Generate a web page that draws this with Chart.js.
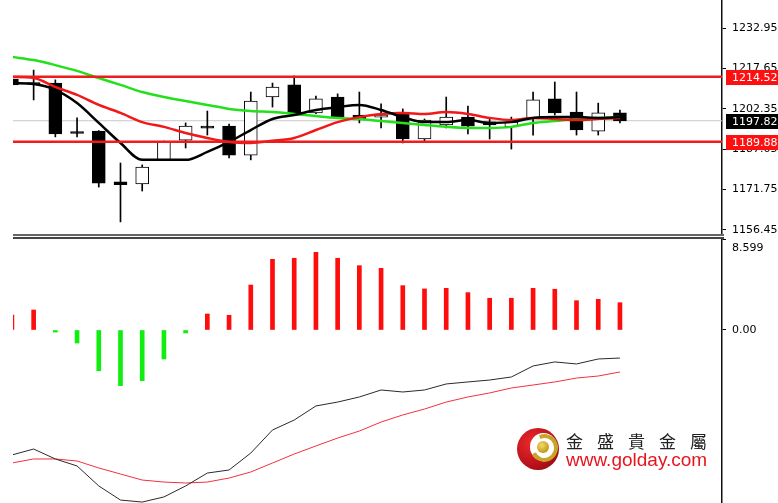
<!DOCTYPE html>
<html>
<head>
<meta charset="utf-8">
<script src="https://cdn.jsdelivr.net/npm/chart.js@4/dist/chart.umd.min.js"></script>
<style>
  html, body { margin: 0; padding: 0; background: #fff; }
  #wrap { position: relative; width: 778px; height: 503px; overflow: hidden; }
  canvas { position: absolute; left: 0; }
  #top { top: 0; }
  #bot { top: 238px; }
  .sep { position: absolute; left: 13px; width: 711px; height: 2px; }
  #logo { position: absolute; left: 517px; top: 428px; width: 42px; height: 42px; border-radius: 50%;
    background: radial-gradient(circle at 35% 35%, #ec2a2a, #b8101a 60%, #7a0a10); }
  #logo .hole { position: absolute; left: 13px; top: 5px; width: 27px; height: 28px; border-radius: 50%; background: #fff; }
  #logo .ring { position: absolute; left: 14px; top: 6px; width: 19px; height: 20px; border-radius: 50%;
    border: 4px solid; border-color: #c9a42a #c9a42a #c9a42a transparent; transform: rotate(20deg); }
  #logo .dot { position: absolute; left: 20px; top: 13px; width: 12px; height: 12px; border-radius: 50%;
    background: radial-gradient(circle at 40% 35%, #f3dc6a, #c49a1a 70%, #9a7410); }
  #brand { position: absolute; left: 566px; top: 431px; font: 17px "Noto Sans CJK TC"; letter-spacing: 14px; color: #222; line-height: 20px; white-space: nowrap; }
  #site { position: absolute; left: 566px; top: 450px; font: 19px "Liberation Sans"; color: #e8141e; line-height: 19px; white-space: nowrap; }
</style>
</head>
<body>
<div id="wrap">
  <canvas id="top" width="778" height="245"></canvas>
  <canvas id="bot" width="778" height="265"></canvas>
  <div class="sep" style="top:234px;background:#666"></div>
  <div class="sep" style="top:237px;background:#444"></div>
  <div id="logo"><div class="hole"></div><div class="ring"></div><div class="dot"></div></div>
  <div id="brand">金盛貴金屬</div>
  <div id="site">www.golday.com</div>
</div>
<script>
// candles
const opens  = [1213.6, 1212.3, 1212.1, 1193.7, 1193.9, 1174.7, 1173.9, 1183.0, 1190.5, 1195.8, 1195.8, 1184.8, 1206.8, 1211.4, 1200.8,
                1206.8, 1200.0, 1199.2, 1201.1, 1190.9, 1196.2, 1199.2, 1197.4, 1195.5, 1198.9, 1206.1, 1201.1, 1193.9, 1200.8];
const highs  = [1214.4, 1217.0, 1213.3, 1198.9, 1194.1, 1181.8, 1181.1, 1190.1, 1197.0, 1201.5, 1196.6, 1208.7, 1212.1, 1214.8, 1207.2,
                1208.0, 1208.7, 1204.2, 1202.3, 1198.5, 1206.8, 1203.4, 1198.9, 1199.2, 1208.7, 1212.5, 1208.7, 1204.5, 1201.9];
const lows   = [1211.0, 1205.7, 1191.7, 1191.7, 1172.7, 1159.5, 1171.2, 1182.8, 1187.5, 1192.4, 1183.7, 1183.0, 1203.0, 1200.4, 1200.5,
                1198.9, 1197.0, 1195.1, 1189.4, 1190.2, 1195.1, 1192.8, 1190.9, 1187.1, 1192.4, 1200.0, 1192.4, 1192.4, 1197.0];
const closes = [1211.4, 1211.7, 1192.8, 1193.0, 1174.2, 1173.6, 1180.3, 1189.8, 1195.8, 1195.0, 1184.8, 1205.3, 1210.6, 1200.8, 1206.1,
                1199.2, 1198.1, 1200.0, 1190.9, 1198.1, 1199.2, 1195.8, 1196.2, 1197.4, 1205.7, 1200.8, 1194.3, 1200.8, 1197.8];

// moving averages
const maFast = [1212.1, 1211.7, 1209.5, 1204.5, 1197.0, 1189.4, 1183.0, 1183.0, 1183.0, 1186.0, 1189.8, 1194.3, 1198.5, 1200.0, 1201.9,
                1203.0, 1203.8, 1201.9, 1199.2, 1197.3, 1197.3, 1198.1, 1197.0, 1197.3, 1198.9, 1199.2, 1199.2, 1198.9, 1199.2];
const maMid  = [1214.4, 1214.0, 1210.6, 1207.6, 1203.8, 1200.8, 1197.3, 1195.5, 1193.2, 1191.3, 1189.8, 1189.4, 1190.2, 1191.3, 1194.3,
                1197.3, 1199.2, 1200.4, 1200.8, 1200.4, 1201.1, 1200.4, 1198.9, 1198.1, 1198.9, 1198.5, 1198.1, 1198.5, 1198.9];
const maSlow = [1222.0, 1220.8, 1218.9, 1216.7, 1214.0, 1211.4, 1208.7, 1206.8, 1205.3, 1203.8, 1202.3, 1201.5, 1201.1, 1200.4, 1199.6,
                1198.9, 1198.5, 1197.7, 1197.0, 1196.2, 1195.5, 1195.1, 1195.1, 1195.5, 1197.0, 1197.7, 1198.5, 1198.9, 1199.2];

const levels = [1214.52, 1189.88];
const lastPrice = 1197.82;
const priceTicks = [1232.95, 1217.65, 1202.35, 1187.05, 1171.75, 1156.45];

// lower panel
const hist   = [1.42, 1.89, -0.2, -1.23, -3.85, -5.26, -4.79, -2.74, -0.28, 1.51, 1.39, 4.25, 6.68, 6.78, 7.34,
                6.78, 6.08, 5.83, 4.19, 3.88, 3.94, 3.53, 3.0, 3.0, 3.94, 3.85, 2.77, 2.9, 2.58];
const lineA  = [-11.81, -11.25, -12.19, -12.85, -14.74, -16.07, -16.26, -15.78, -14.74, -13.52, -13.23, -11.63, -9.45, -8.51, -7.18,
                -6.81, -6.33, -5.67, -5.86, -5.67, -5.1, -4.91, -4.73, -4.44, -3.4, -3.02, -3.21, -2.74, -2.65];
const lineB  = [-12.57, -12.19, -12.19, -12.38, -13.04, -13.61, -14.18, -14.37, -14.46, -14.37, -13.99, -13.42, -12.57, -11.72, -10.96,
                -10.21, -9.55, -8.7, -8.03, -7.47, -6.81, -6.33, -5.95, -5.48, -5.2, -4.91, -4.54, -4.35, -3.97];
const lowerTicks = [8.599, 0];

Chart.defaults.font.family = '"DejaVu Sans"';
Chart.defaults.font.size = 11;
Chart.defaults.color = '#000';

const X_MIN = 0.05, X_MAX = 32.7;
const pts = arr => arr.map((v, i) => ({ x: i, y: v }));
const flat = v => [{ x: X_MIN, y: v }, { x: X_MAX, y: v }];

const xScale = { type: 'linear', min: X_MIN, max: X_MAX, offset: false, display: false };
const axisRight = (min, max, ticks) => ({
  position: 'right', min, max,
  afterFit(s) { s.width = 56; s.paddingTop = 0; s.paddingBottom = 0; },
  afterBuildTicks(s) { s.ticks = ticks.map(v => ({ value: v })); },
  grid: { drawOnChartArea: false, drawTicks: true, tickLength: 4, color: '#000' },
  border: { display: true, color: '#111', width: 1.5 },
  ticks: { padding: 6, color: '#000', callback: v => v === 8.599 ? '' : v.toFixed(2) }
});

const priceTags = {
  id: 'priceTags',
  afterDraw(chart) {
    const ys = chart.scales.y, ctx = chart.ctx;
    const tags = [
      { v: levels[0], bg: '#ff1010' },
      { v: lastPrice, bg: '#000' },
      { v: levels[1], bg: '#ff1010' }
    ];
    ctx.save();
    ctx.font = '11px "DejaVu Sans"';
    ctx.textBaseline = 'middle';
    tags.forEach(t => {
      const py = Math.round(ys.getPixelForValue(t.v));
      ctx.fillStyle = t.bg;
      ctx.fillRect(ys.left + 4, py - 7, 60, 15);
      ctx.fillStyle = '#fff';
      ctx.fillText(t.v.toFixed(2), ys.left + 10, py + 1);
    });
    ctx.restore();
  }
};

new Chart(document.getElementById('top'), {
  type: 'bar',
  data: {
    datasets: [
      { type: 'line', data: flat(lastPrice), borderColor: '#c8c8c8', borderWidth: 1, pointRadius: 0, order: 7 },
      { data: opens.map((o, i) => ({ x: i, y: [lows[i], highs[i]] })), backgroundColor: '#000', barThickness: 1, grouped: false, order: 6 },
      { data: opens.map((o, i) => ({ x: i, y: [o, closes[i]] })),
        backgroundColor: opens.map((o, i) => closes[i] >= o ? '#fff' : '#000'),
        borderColor: '#000', borderWidth: 1, borderSkipped: false, barThickness: 13, grouped: false, order: 5 },
      { type: 'line', data: pts(maSlow), borderColor: '#22e01a', borderWidth: 2.5, pointRadius: 0, cubicInterpolationMode: 'monotone', order: 3 },
      { type: 'line', data: pts(maMid), borderColor: '#f01818', borderWidth: 2.5, pointRadius: 0, cubicInterpolationMode: 'monotone', order: 2 },
      { type: 'line', data: pts(maFast), borderColor: '#000', borderWidth: 2.5, pointRadius: 0, cubicInterpolationMode: 'monotone', order: 1 },
      { type: 'line', data: flat(levels[0]), borderColor: '#ee1c1c', borderWidth: 2.5, pointRadius: 0, order: 0 },
      { type: 'line', data: flat(levels[1]), borderColor: '#ee1c1c', borderWidth: 2.5, pointRadius: 0, order: 0 }
    ]
  },
  options: {
    responsive: false, animation: false,
    layout: { autoPadding: false, padding: { left: 13, top: 0, right: 0, bottom: 10 } },
    plugins: { legend: { display: false }, tooltip: { enabled: false } },
    scales: { x: xScale, y: axisRight(1154.54, 1243.56, priceTicks) }
  },
  plugins: [priceTags]
});

const topLabel = {
  id: 'topLabel',
  afterDraw(chart) {
    const ys = chart.scales.y, ctx = chart.ctx;
    ctx.save();
    ctx.font = '11px "DejaVu Sans"';
    ctx.fillStyle = '#000';
    ctx.textBaseline = 'middle';
    ctx.fillText(lowerTicks[0].toFixed(3), ys.left + 10, ys.getPixelForValue(lowerTicks[0]) + 9);
    ctx.restore();
  }
};

new Chart(document.getElementById('bot'), {
  type: 'bar',
  data: {
    datasets: [
      { data: pts(hist), backgroundColor: hist.map(v => v >= 0 ? '#ff0c0c' : '#10ee10'), barThickness: 4, grouped: false, order: 3 },
      { type: 'line', data: pts(lineA), borderColor: '#2a2a2a', borderWidth: 1, pointRadius: 0, tension: 0, order: 1 },
      { type: 'line', data: pts(lineB), borderColor: '#f23040', borderWidth: 1, pointRadius: 0, tension: 0, order: 2 }
    ]
  },
  options: {
    responsive: false, animation: false,
    layout: { autoPadding: false, padding: { left: 13, top: 1, right: 0, bottom: 0 } },
    plugins: { legend: { display: false }, tooltip: { enabled: false } },
    scales: { x: xScale, y: axisRight(-16.35, 8.599, lowerTicks) }
  },
  plugins: [topLabel]
});
</script>
</body>
</html>
